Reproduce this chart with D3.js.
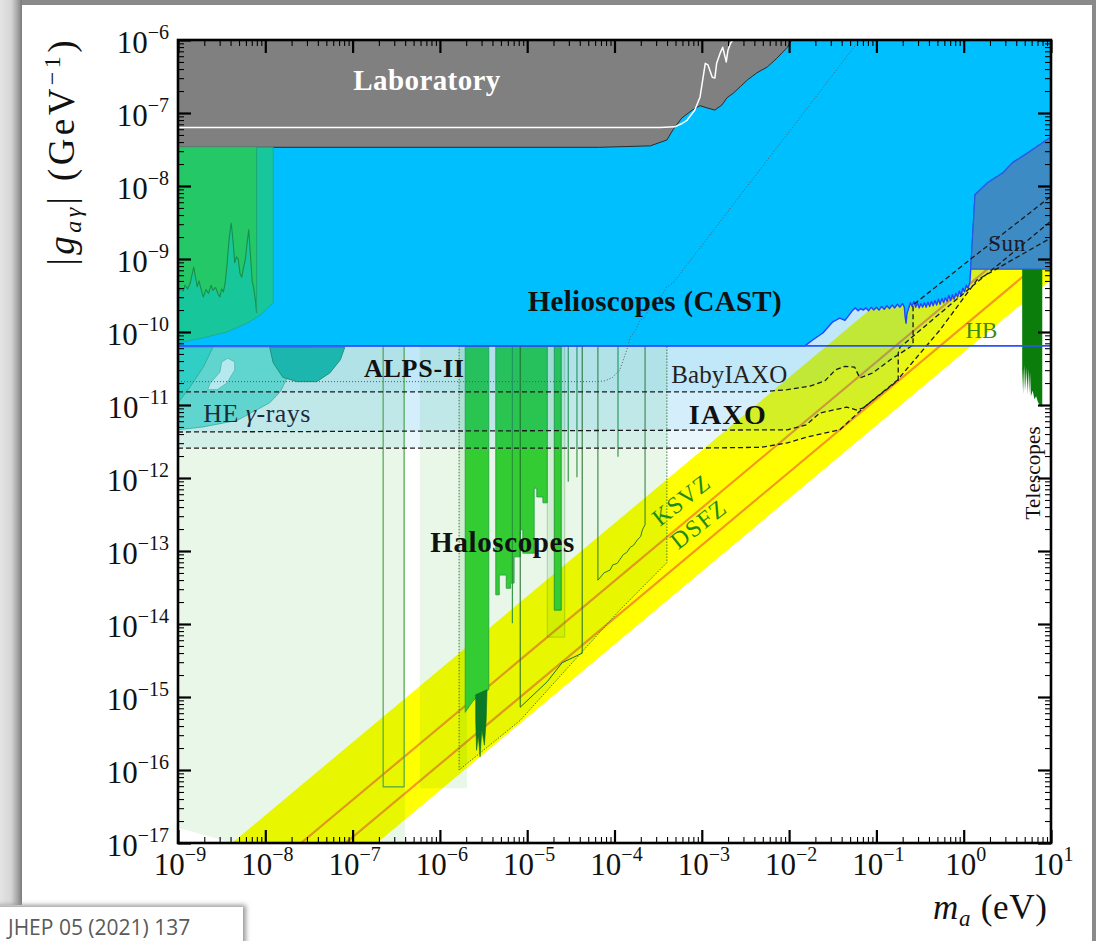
<!DOCTYPE html>
<html>
<head>
<meta charset="utf-8">
<title>Axion-photon coupling limits</title>
<script src="https://cdn.jsdelivr.net/npm/d3@7/dist/d3.min.js"></script>
<style>
  html, body { margin: 0; padding: 0; background: #ffffff; overflow: hidden; }
  svg { display: block; }
</style>
</head>
<body>
<svg id="chart" width="1096" height="941"></svg>
<script>
// Every outline below is a list of [log10(m_a / eV), log10(|g_ay| / GeV^-1)] pairs.

const xTickExponents = [-9, -8, -7, -6, -5, -4, -3, -2, -1, 0, 1];
const yTickExponents = [-6, -7, -8, -9, -10, -11, -12, -13, -14, -15, -16, -17];

// QCD axion band edges and the two benchmark models
const bandUpper = [[-9.0, -17.62], [1.0, -7.62]];
const bandLower = [[-9.0, -19.28], [1.0, -9.28]];
const ksvzLine = [[-9.0, -18.41], [1.0, -8.41]];
const dfszLine = [[-9.0, -18.92], [1.0, -8.92]];

// Haloscopes: projected (pale) regions
const haloBackdrop = [[-9, -10.19], [-6.40, -10.19], [-6.40, -17], [-8.37, -17], [-9, -16.79]];
const haloStrip = [[-6.23, -10.19], [-5.69, -10.19], [-5.69, -16.25], [-6.23, -16.25]];
const haloDotted = [[-5.78, -10.19], [-5.78, -16.00], [-5.08, -15.32], [-3.94, -13.81], [-3.40, -13.16], [-3.40, -10.19]];
const haloNarrow = [[-4.77, -10.19], [-4.57, -10.19], [-4.57, -14.18], [-4.77, -14.18]];
const haloBoxA = [[-6.65, -10.19], [-6.65, -16.23], [-6.41, -16.23], [-6.41, -10.19]];
const haloBoxB = [[-5.08, -10.19], [-5.08, -15.14], [-4.77, -14.79], [-4.60, -14.53], [-4.37, -14.40], [-4.37, -10.19]];
const haloBoxC = [[-4.19, -10.19], [-4.19, -13.40], [-4.12, -13.30], [-4.05, -13.26], [-4.02, -13.19], [-3.97, -13.17],
  [-3.94, -13.12], [-3.90, -13.05], [-3.86, -13.02], [-3.82, -12.95], [-3.78, -12.92], [-3.74, -12.85], [-3.70, -12.80],
  [-3.68, -12.71], [-3.65, -12.64], [-3.65, -10.19]];

// Haloscopes: existing limits
const admx = [[-5.71, -10.19], [-5.44, -10.19], [-5.44, -14.90], [-5.54, -14.95], [-5.63, -15.07], [-5.71, -15.21]];
const admxDeep = [[-5.59, -14.97], [-5.46, -14.90], [-5.47, -15.32], [-5.49, -15.66], [-5.52, -15.45], [-5.54, -15.82],
  [-5.56, -15.52], [-5.58, -15.73], [-5.59, -15.32]];
const capp = [[-5.36, -10.19], [-4.77, -10.19], [-4.77, -12.34], [-4.82, -12.34], [-4.82, -12.26], [-4.89, -12.26],
  [-4.89, -12.14], [-4.92, -12.14], [-4.92, -13.03], [-5.05, -13.03], [-5.05, -12.71], [-5.08, -12.71], [-5.08, -13.08],
  [-5.15, -13.08], [-5.15, -13.44], [-5.19, -13.44], [-5.19, -13.51], [-5.24, -13.51], [-5.24, -13.33], [-5.32, -13.33],
  [-5.32, -13.60], [-5.36, -13.60]];
const haystac = [[-4.69, -10.19], [-4.61, -10.19], [-4.61, -13.81], [-4.69, -13.81]];
// narrow single-frequency exclusions: [log10 m, lowest log10 g]
const needleLimits = [[-5.17, -13.99], [-4.53, -12.05], [-4.43, -11.99], [-3.96, -11.71]];

// Helioscope projections (lower edges of the reach)
const babyIaxo = [[-9, -10.82], [-2.33, -10.82], [-2.02, -10.79], [-1.76, -10.74], [-1.59, -10.67], [-1.47, -10.52],
  [-1.36, -10.47], [-1.25, -10.48], [-1.19, -10.63], [-1.04, -10.56], [-0.84, -10.38], [-0.58, -10.18],
  [-0.58, -9.63], [0.07, -9.01], [1.0, -8.14]];
const iaxo = [[-9, -11.37], [-2.02, -11.34], [-1.80, -11.27], [-1.65, -11.11], [-1.50, -11.07], [-1.34, -11.03],
  [-1.22, -11.07], [-1.15, -11.04], [-0.96, -10.86], [-0.75, -10.66], [-0.75, -10.29], [-0.73, -10.21],
  [0.07, -9.40], [1.0, -8.48]];
const iaxoPlus = [[-9, -11.59], [-3.02, -11.59], [-2.33, -11.58], [-2.02, -11.52], [-1.80, -11.44], [-1.50, -11.36],
  [-1.42, -11.34], [-1.15, -11.04], [-0.76, -10.66], [-0.27, -9.97], [0.15, -9.29], [1.0, -8.71]];
const alpsTwo = [[-9, -10.68], [-4.22, -10.68], [-4.11, -10.67], [-4.02, -10.62], [-3.94, -10.52], [-3.86, -10.25],
  [-3.82, -10.07], [-3.76, -9.98], [-3.71, -9.84], [-3.65, -9.80], [-3.60, -9.66], [-3.56, -9.60], [-3.50, -9.52],
  [-3.46, -9.50], [-3.40, -9.38], [-3.33, -9.33], [-1.22, -6.04]];

// High-energy gamma-ray bounds
const gammaWide = [[-9, -10.21], [-7.47, -10.21], [-7.60, -10.38], [-7.75, -10.63], [-7.83, -10.82], [-7.95, -10.97],
  [-8.32, -11.21], [-8.71, -11.30], [-9, -11.34]];
const gammaCorner = [[-9, -10.21], [-8.60, -10.21], [-8.71, -10.48], [-8.86, -10.75], [-9, -10.97]];
const gammaHess = [[-7.95, -10.21], [-7.91, -10.42], [-7.80, -10.62], [-7.64, -10.68], [-7.41, -10.68], [-7.26, -10.56],
  [-7.14, -10.38], [-7.09, -10.21]];
const gammaGap = [[-8.50, -10.41], [-8.43, -10.36], [-8.35, -10.41], [-8.35, -10.52], [-8.44, -10.70], [-8.55, -10.79],
  [-8.66, -10.79], [-8.63, -10.70], [-8.52, -10.55]];

// CAST and solar bound
const castUpper = [[-9, -6], [1.0, -6], [1.0, -7.33], [0.73, -7.55], [0.56, -7.68], [0.45, -7.82], [0.27, -7.96],
  [0.13, -8.12], [0.10, -8.74], [0.08, -9.15]];
const castEdge = [[0.07, -9.32], [0.05, -9.40], [0.03, -9.36], [0.01, -9.45], [-0.01, -9.40], [-0.03, -9.50],
  [-0.05, -9.44], [-0.07, -9.52], [-0.09, -9.47], [-0.11, -9.55], [-0.13, -9.49], [-0.15, -9.57], [-0.17, -9.50],
  [-0.19, -9.58], [-0.21, -9.53], [-0.23, -9.60], [-0.25, -9.54], [-0.27, -9.62], [-0.29, -9.55], [-0.31, -9.63],
  [-0.33, -9.57], [-0.35, -9.64], [-0.37, -9.58], [-0.39, -9.65], [-0.41, -9.59], [-0.43, -9.66], [-0.45, -9.60],
  [-0.47, -9.66], [-0.49, -9.61], [-0.51, -9.67], [-0.53, -9.60], [-0.55, -9.66], [-0.57, -9.58], [-0.59, -9.65],
  [-0.61, -9.60], [-0.63, -9.67], [-0.65, -9.75], [-0.66, -9.88], [-0.67, -9.80], [-0.68, -9.66], [-0.70, -9.61],
  [-0.73, -9.66], [-0.76, -9.62], [-0.79, -9.67], [-0.82, -9.63], [-0.85, -9.68], [-0.88, -9.64], [-0.91, -9.69],
  [-0.94, -9.65], [-0.97, -9.70], [-1.00, -9.66], [-1.03, -9.70], [-1.06, -9.66], [-1.09, -9.71], [-1.12, -9.67],
  [-1.15, -9.70], [-1.18, -9.68], [-1.21, -9.71], [-1.24, -9.67], [-1.27, -9.70], [-1.36, -9.84], [-1.42, -9.81],
  [-1.50, -9.86], [-1.61, -10.01], [-1.73, -10.11], [-1.82, -10.19], [-9, -10.19]];
const sunBound = [[0.08, -9.14], [0.10, -8.74], [0.13, -8.12], [0.27, -7.96], [0.45, -7.82], [0.56, -7.68],
  [0.73, -7.55], [1.0, -7.33], [1.0, -9.14]];
const hbLimit = [[-9, -10.19], [1.0, -10.19]];

// Laboratory (light shining through walls, PVLAS, ...)
const laboratory = [[-9, -6], [-1.97, -6], [-2.02, -6.10], [-2.14, -6.25], [-2.25, -6.37], [-2.37, -6.45],
  [-2.48, -6.55], [-2.56, -6.64], [-2.64, -6.73], [-2.71, -6.79], [-2.77, -6.89], [-2.85, -6.96], [-2.94, -6.93],
  [-3.02, -6.90], [-3.11, -6.96], [-3.23, -7.07], [-3.33, -7.23], [-3.40, -7.37], [-3.59, -7.45], [-4.17, -7.47],
  [-9, -7.47]];
const labInner = [[-9, -7.20], [-3.48, -7.20], [-3.31, -7.19], [-3.22, -7.14], [-3.17, -7.10], [-3.08, -6.96],
  [-3.02, -6.78], [-2.99, -6.55], [-2.96, -6.32], [-2.93, -6.34], [-2.88, -6.51], [-2.85, -6.52], [-2.83, -6.32],
  [-2.79, -6.18], [-2.76, -6.10], [-2.72, -6.30], [-2.70, -6.14], [-2.67, -6.04], [-2.64, -6.0]];

// Low-mass astrophysical and haloscope bounds (upper left)
const lowMassTeal = [[-9, -7.47], [-7.91, -7.47], [-7.91, -9.60], [-8.06, -9.77], [-8.21, -9.88], [-8.44, -10.00],
  [-8.71, -10.08], [-9, -10.15]];
const lowMassTop = [[-9, -7.47], [-8.10, -7.47]];
const lowMassEdge = [[-9.00, -9.47], [-8.97, -9.40], [-8.94, -9.44], [-8.92, -9.36], [-8.89, -9.41], [-8.86, -9.33],
  [-8.84, -9.22], [-8.82, -9.11], [-8.80, -9.25], [-8.78, -9.38], [-8.76, -9.30], [-8.73, -9.44], [-8.71, -9.52],
  [-8.68, -9.42], [-8.65, -9.47], [-8.62, -9.36], [-8.60, -9.43], [-8.57, -9.39], [-8.54, -9.48], [-8.52, -9.52],
  [-8.50, -9.41], [-8.48, -9.45], [-8.46, -9.33], [-8.44, -9.10], [-8.42, -8.80], [-8.40, -8.58], [-8.39, -8.51],
  [-8.37, -8.75], [-8.35, -9.05], [-8.33, -8.97], [-8.31, -9.00], [-8.29, -9.20], [-8.27, -9.25], [-8.25, -9.12],
  [-8.23, -9.02], [-8.21, -8.80], [-8.19, -8.60], [-8.17, -8.95], [-8.15, -9.30], [-8.13, -9.42], [-8.11, -9.60],
  [-8.10, -9.74]];

// Telescopes
const telescopes = [[0.67, -9.14], [0.90, -9.14], [0.90, -11.03], [0.89, -11.02], [0.87, -11.00], [0.85, -10.96],
  [0.83, -10.88], [0.81, -10.92], [0.79, -10.80], [0.77, -10.88], [0.76, -10.55], [0.75, -10.84], [0.74, -10.50],
  [0.73, -10.86], [0.72, -10.48], [0.71, -10.80], [0.70, -10.45], [0.69, -10.85], [0.68, -10.50], [0.67, -10.79]];

// Region labels: text, anchor position, style
const regionLabels = [
  { text: "Laboratory", at: [-6.15, -6.68], size: 29, weight: "bold", fill: "#ffffff", anchor: "middle", len: 147 },
  { text: "Helioscopes (CAST)", at: [-3.54, -9.71], size: 29, weight: "bold", fill: "#111", anchor: "middle", len: 254 },
  { text: "ALPS-II", at: [-6.87, -10.62], size: 26, weight: "bold", fill: "#111", anchor: "start", len: 100 },
  { text: "BabyIAXO", at: [-3.35, -10.70], size: 25, weight: "normal", fill: "#222", anchor: "start", len: 116 },
  { text: "IAXO", at: [-3.15, -11.26], size: 28, weight: "bold", fill: "#111", anchor: "start", len: 77 },
  { text: "Haloscopes", at: [-6.11, -13.01], size: 29, weight: "bold", fill: "#111", anchor: "start", len: 144 },
  { text: "Sun", at: [0.28, -8.89], size: 23, weight: "normal", fill: "#1a1a2a", anchor: "start", len: 37 },
  { text: "HB", at: [0.02, -10.08], size: 23, weight: "normal", fill: "#3c8a10", anchor: "start", len: 32 }
];
const bandLabels = [
  { text: "KSVZ", at: [-3.48, -12.67], len: 66 },
  { text: "DSFZ", at: [-3.27, -12.99], len: 63 }
];

// ------------------------------------------------------------------
const serif = "'Liberation Serif', 'Times New Roman', serif";
const svg = d3.select("#chart");
const x = d3.scaleLog().domain([1e-9, 10]).range([178, 1051]);
const y = d3.scaleLog().domain([1e-17, 1e-6]).range([843, 40]);
const px = d => x(Math.pow(10, d[0]));
const py = d => y(Math.pow(10, d[1]));
const line = d3.line().x(px).y(py);
const closed = pts => line(pts) + "Z";

// page frame
const defs = svg.append("defs");
const grad = defs.append("linearGradient").attr("id", "edgeShade").attr("x1", 0).attr("x2", 1).attr("y1", 0).attr("y2", 0);
grad.append("stop").attr("offset", "0%").attr("stop-color", "#e4e4e4");
grad.append("stop").attr("offset", "50%").attr("stop-color", "#d6d6d6");
grad.append("stop").attr("offset", "78%").attr("stop-color", "#a8a8a8");
grad.append("stop").attr("offset", "100%").attr("stop-color", "#7a7a7a");
defs.append("filter").attr("id", "soft").attr("x", "-20%").attr("y", "-50%").attr("width", "140%").attr("height", "200%")
  .append("feGaussianBlur").attr("stdDeviation", 2.5);
defs.append("clipPath").attr("id", "plotClip").append("rect")
  .attr("x", 178).attr("y", 40).attr("width", 873).attr("height", 803);

svg.append("rect").attr("width", 1096).attr("height", 941).attr("fill", "#ffffff");
svg.append("rect").attr("x", 0).attr("y", 0).attr("width", 1096).attr("height", 5).attr("fill", "#8a8a8a");
svg.append("rect").attr("x", 0).attr("y", 0).attr("width", 22).attr("height", 905).attr("fill", "url(#edgeShade)");
svg.append("rect").attr("x", 1092).attr("y", 0).attr("width", 4).attr("height", 941).attr("fill", "#8a8a8a");

const plot = svg.append("g").attr("clip-path", "url(#plotClip)");

function region(pts, fill, stroke, sw, dash) {
  return plot.append("path").attr("d", closed(pts))
    .attr("fill", fill).attr("stroke", stroke || "none").attr("stroke-width", sw || 0)
    .attr("stroke-dasharray", dash || null).attr("stroke-linejoin", "round");
}
function curve(pts, stroke, sw, dash) {
  return plot.append("path").attr("d", line(pts)).attr("fill", "none")
    .attr("stroke", stroke).attr("stroke-width", sw).attr("stroke-dasharray", dash || null)
    .attr("stroke-linejoin", "round");
}

// QCD band
region(bandUpper.concat(bandLower.slice().reverse()), "#ffff00");
curve(ksvzLine, "#f39a1e", 2.2);
curve(dfszLine, "#f39a1e", 2.2);

// pale haloscope projections
const paleGreen = "rgba(0,166,0,0.09)";
region(haloBackdrop, paleGreen);
region(haloStrip, paleGreen);
region(haloDotted, paleGreen);
region(haloNarrow, paleGreen, "rgba(40,120,40,0.35)", 0.8);

// existing haloscope limits
region(admx, "#33cc33", "#1f9a3a", 0.8);
region(admxDeep, "#0b7a26", "#0b6a20", 0.6);
region(capp, "#33cc33", "#1f9a3a", 0.8);
region(haystac, "#33cc33", "#1f8a30", 0.8);
needleLimits.forEach(n => curve([[n[0], -10.19], n], "#2a8f3a", 1.1));

// helioscope reach (translucent, stacked)
const paleBlue = "rgba(0,160,230,0.085)";
[babyIaxo, iaxo, iaxoPlus].forEach(c => region(c.concat([[1.0, -6], [-9, -6]]), paleBlue));

// high-energy gamma rays
region(gammaWide, "#60d5cf", "#36ad9c", 0.8);
region(gammaCorner, "#31cec5", "#2aa894", 0.8);
region(gammaHess, "#1db6ae", "#1c8f70", 0.9);
region(gammaGap, "#b6e9ef", "#4ab0a0", 0.7);

// CAST, solar and laboratory bounds
region(castUpper.concat(castEdge), "#00bfff", "#2242ff", 1.4);
region(sunBound, "#3d8bc4", "#2a5ce0", 1.2);
region(laboratory, "#808080", "#2a2a2a", 1);
curve(labInner, "#ffffff", 1.5);

// low-mass bounds on the left
region(lowMassTeal, "#17c79b", "#1aa88a", 0.8);
region(lowMassTop.concat(lowMassEdge.slice().reverse()), "#25c866");
curve(lowMassEdge, "#178f4c", 1.1);
curve([[-8.10, -7.47], [-8.10, -9.74]], "#1aa070", 0.8);

// telescopes
region(telescopes, "#0a7d0a");

// haloscope projection outlines
region(haloBoxA, "none", "#4aa84a", 1.2);
region(haloDotted, "none", "#2e6e2e", 0.9, "1.5,1.5");
region(haloBoxB, "none", "#1f6a2a", 1);
region(haloBoxC, "none", "#2a7a3a", 1);

// helioscope projection edges
curve(babyIaxo, "#1a1a1a", 1.3, "5,3");
curve(iaxo, "#1a1a1a", 1.3, "5,3");
curve(iaxoPlus, "#1a1a1a", 1.3, "5,3");
curve(alpsTwo, "#555a66", 1, "1,2");
curve(hbLimit, "#2a50ff", 1.6);

// region labels
regionLabels.forEach(l => {
  svg.append("text").attr("x", px(l.at)).attr("y", py(l.at))
    .attr("text-anchor", l.anchor).attr("textLength", l.len).attr("lengthAdjust", "spacing")
    .style("font-family", serif).style("font-size", l.size + "px").style("font-weight", l.weight)
    .attr("fill", l.fill).text(l.text);
});
const he = svg.append("text").attr("x", px([-8.71, -11.23])).attr("y", py([-8.71, -11.23]))
  .attr("textLength", 107).attr("lengthAdjust", "spacing")
  .style("font-family", serif).style("font-size", "26px").attr("fill", "#1c2a3a");
he.append("tspan").text("HE ");
he.append("tspan").style("font-style", "italic").text("γ");
he.append("tspan").text("-rays");
bandLabels.forEach(l => {
  svg.append("text").attr("transform", `translate(${px(l.at)},${py(l.at)}) rotate(-38)`)
    .attr("textLength", l.len).attr("lengthAdjust", "spacing")
    .style("font-family", serif).style("font-size", "24px").attr("fill", "#1f8a1f").text(l.text);
});
svg.append("text").attr("transform", `translate(${px([0.87, -11.93])},${py([0.87, -11.93])}) rotate(-90)`)
  .attr("text-anchor", "middle").attr("textLength", 93).attr("lengthAdjust", "spacing")
  .style("font-family", serif).style("font-size", "21px").attr("fill", "#111").text("Telescopes");

// axes: major and minor ticks on all four sides, pointing inward
const xMajor = xTickExponents.map(e => Math.pow(10, e));
const yMajor = yTickExponents.map(e => Math.pow(10, e));
const minorOf = exps => {
  const out = [];
  exps.slice(0, -1).forEach(e => { for (let j = 2; j <= 9; j++) out.push(j * Math.pow(10, e)); });
  return out;
};
const xMinor = minorOf(xTickExponents);
const yMinor = minorOf(yTickExponents.slice().reverse());

function tickSet(axisGen, vals, size, width, transform) {
  const g = svg.append("g").attr("transform", transform)
    .call(axisGen.tickValues(vals).tickSize(-size).tickFormat(""));
  g.select(".domain").remove();
  g.selectAll(".tick line").attr("stroke", "#000").attr("stroke-width", width);
}
tickSet(d3.axisBottom(x), xMajor, 13, 2.2, "translate(0,843)");
tickSet(d3.axisBottom(x), xMinor, 6, 1.1, "translate(0,843)");
tickSet(d3.axisTop(x), xMajor, 13, 2.2, "translate(0,40)");
tickSet(d3.axisTop(x), xMinor, 6, 1.1, "translate(0,40)");
tickSet(d3.axisLeft(y), yMajor, 13, 2.2, "translate(178,0)");
tickSet(d3.axisLeft(y), yMinor, 6, 1.1, "translate(178,0)");
tickSet(d3.axisRight(y), yMajor, 13, 2.2, "translate(1051,0)");
tickSet(d3.axisRight(y), yMinor, 6, 1.1, "translate(1051,0)");

svg.append("rect").attr("x", 178).attr("y", 40).attr("width", 873).attr("height", 803)
  .attr("fill", "none").attr("stroke", "#000").attr("stroke-width", 2.6);

// tick labels
function powerLabel(sel, e) {
  sel.append("tspan").text("10");
  sel.append("tspan").attr("dy", -14).style("font-size", "20px").text(e < 0 ? "\u2212" + (-e) : String(e));
}
xTickExponents.forEach(e => {
  const t = svg.append("text").attr("x", x(Math.pow(10, e)) + 2).attr("y", 875).attr("text-anchor", "middle")
    .style("font-family", serif).style("font-size", "31px").attr("fill", "#111");
  powerLabel(t, e);
});
yTickExponents.forEach(e => {
  const t = svg.append("text").attr("x", 169).attr("y", y(Math.pow(10, e)) + 13).attr("text-anchor", "end")
    .style("font-family", serif).style("font-size", "31px").attr("fill", "#111");
  powerLabel(t, e);
});

// axis titles
const yt = svg.append("text").attr("transform", "translate(74,153) rotate(-90)").attr("text-anchor", "middle")
  .attr("textLength", 225).attr("lengthAdjust", "spacing")
  .style("font-family", serif).style("font-size", "37px").attr("fill", "#111");
yt.append("tspan").text("|");
yt.append("tspan").style("font-style", "italic").text("g");
yt.append("tspan").attr("dy", 7).style("font-size", "24px").style("font-style", "italic").text("aγ");
yt.append("tspan").attr("dy", -7).text("| (GeV");
yt.append("tspan").attr("dy", -14).style("font-size", "24px").text("\u22121");
yt.append("tspan").attr("dy", 14).text(")");

const xt = svg.append("text").attr("x", 1047).attr("y", 919).attr("text-anchor", "end")
  .attr("textLength", 114).attr("lengthAdjust", "spacing")
  .style("font-family", serif).style("font-size", "35px").attr("fill", "#111");
xt.append("tspan").style("font-style", "italic").text("m");
xt.append("tspan").attr("dy", 7).style("font-size", "23px").style("font-style", "italic").text("a");
xt.append("tspan").attr("dy", -7).text(" (eV)");

// citation tab, bottom left
svg.append("rect").attr("x", -10).attr("y", 905).attr("width", 256).attr("height", 50)
  .attr("fill", "#9a9a9a").attr("filter", "url(#soft)");
svg.append("rect").attr("x", 0).attr("y", 907).attr("width", 243).attr("height", 40).attr("fill", "#ffffff");
svg.append("text").attr("x", 8).attr("y", 935)
  .style("font-family", "'Open Sans', sans-serif").style("font-size", "21px").attr("fill", "#5a5a5a")
  .text("JHEP 05 (2021) 137");
</script>
</body>
</html>
